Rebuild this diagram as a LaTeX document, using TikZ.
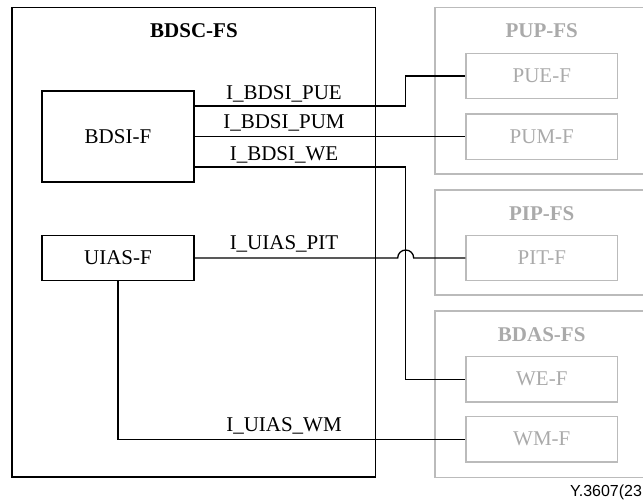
\documentclass[tikz,border=0pt]{standalone}
\usepackage{fontspec}
\setmainfont{Liberation Serif}
\newfontfamily\footfont{Liberation Sans}
\definecolor{fsgray}{HTML}{BBBBBB}
\definecolor{fstext}{HTML}{AAAAAA}
\tikzset{
  fnbox/.style={draw, line width=1.3pt, minimum width=152pt, inner sep=0pt},
  extbox/.style={draw=fsgray, line width=1.3pt, text=fstext, minimum width=151.7pt, minimum height=45.4pt, inner sep=0pt},
  link/.style={line width=1.3pt},
  iflabel/.style={anchor=base, inner sep=0pt},
  title/.style={anchor=base, inner sep=0pt, font=\bfseries\fontsize{21}{25}\selectfont},
}
\begin{document}
\begin{tikzpicture}[x=1pt, y=-1pt, font=\fontsize{21}{25}\selectfont]
  \useasboundingbox (0,0) rectangle (643,499);
  \clip (0,0) rectangle (643,499);

  % functional sets
  \draw[line width=1.3pt] (12,7.7) rectangle (375.7,477);
  \node[title] (bdscT) at (194,37.7) {BDSC-FS};

  \draw[fsgray, line width=1.3pt] (435,7.5) rectangle (660,174);
  \node[title, text=fstext] (pupT) at (541.7,37.5) {PUP-FS};
  \draw[fsgray, line width=1.3pt] (435,190) rectangle (660,295);
  \node[title, text=fstext] (pipT) at (541.7,220) {PIP-FS};
  \draw[fsgray, line width=1.3pt] (435,311) rectangle (660,477.3);
  \node[title, text=fstext] (bdasT) at (541.7,341) {BDAS-FS};

  % functional entities
  \node[fnbox, minimum height=91pt] (bdsi) at (118,136.5) {BDSI-F};
  \node[fnbox, minimum height=45.4pt] (uias) at (118,258) {UIAS-F};

  \node[extbox] (pue) at (541.8,76) {PUE-F};
  \node[extbox] (pum) at (541.8,136.8) {PUM-F};
  \node[extbox] (pit) at (541.8,258) {PIT-F};
  \node[extbox] (we)  at (541.8,379.2) {WE-F};
  \node[extbox] (wm)  at (541.8,439.2) {WM-F};

  % reference points
  \coordinate (jx) at (405.7,0);
  \draw[link] ([yshift=-15.7pt]bdsi.north east) -| (jx |- pue.west) -- (pue.west);
  \draw[link] (bdsi.east |- pum.west) -- (pum.west);
  \draw[link] ([yshift=15.7pt]bdsi.south east) -| (jx |- we.west) -- (we.west);
  \coordinate (hop) at (397.7,258);
  \draw[link] (uias.east) -- (hop) arc (180:360:8) -- (pit.west);
  \draw[link] (uias.south) |- (wm.west);

  \node[iflabel] (l1) at (284,99) {I\_BDSI\_PUE};
  \node[iflabel] (l2) at (284,128.3) {I\_BDSI\_PUM};
  \node[iflabel] (l3) at (284,160) {I\_BDSI\_WE};
  \node[iflabel] (l4) at (284,249.5) {I\_UIAS\_PIT};
  \node[iflabel] (l5) at (284,431.7) {I\_UIAS\_WM};

  \node[anchor=base west, inner sep=0pt, font=\footfont\fontsize{16}{19}\selectfont] (tag) at (570,496.5) {Y.3607(23};
\end{tikzpicture}
\end{document}
